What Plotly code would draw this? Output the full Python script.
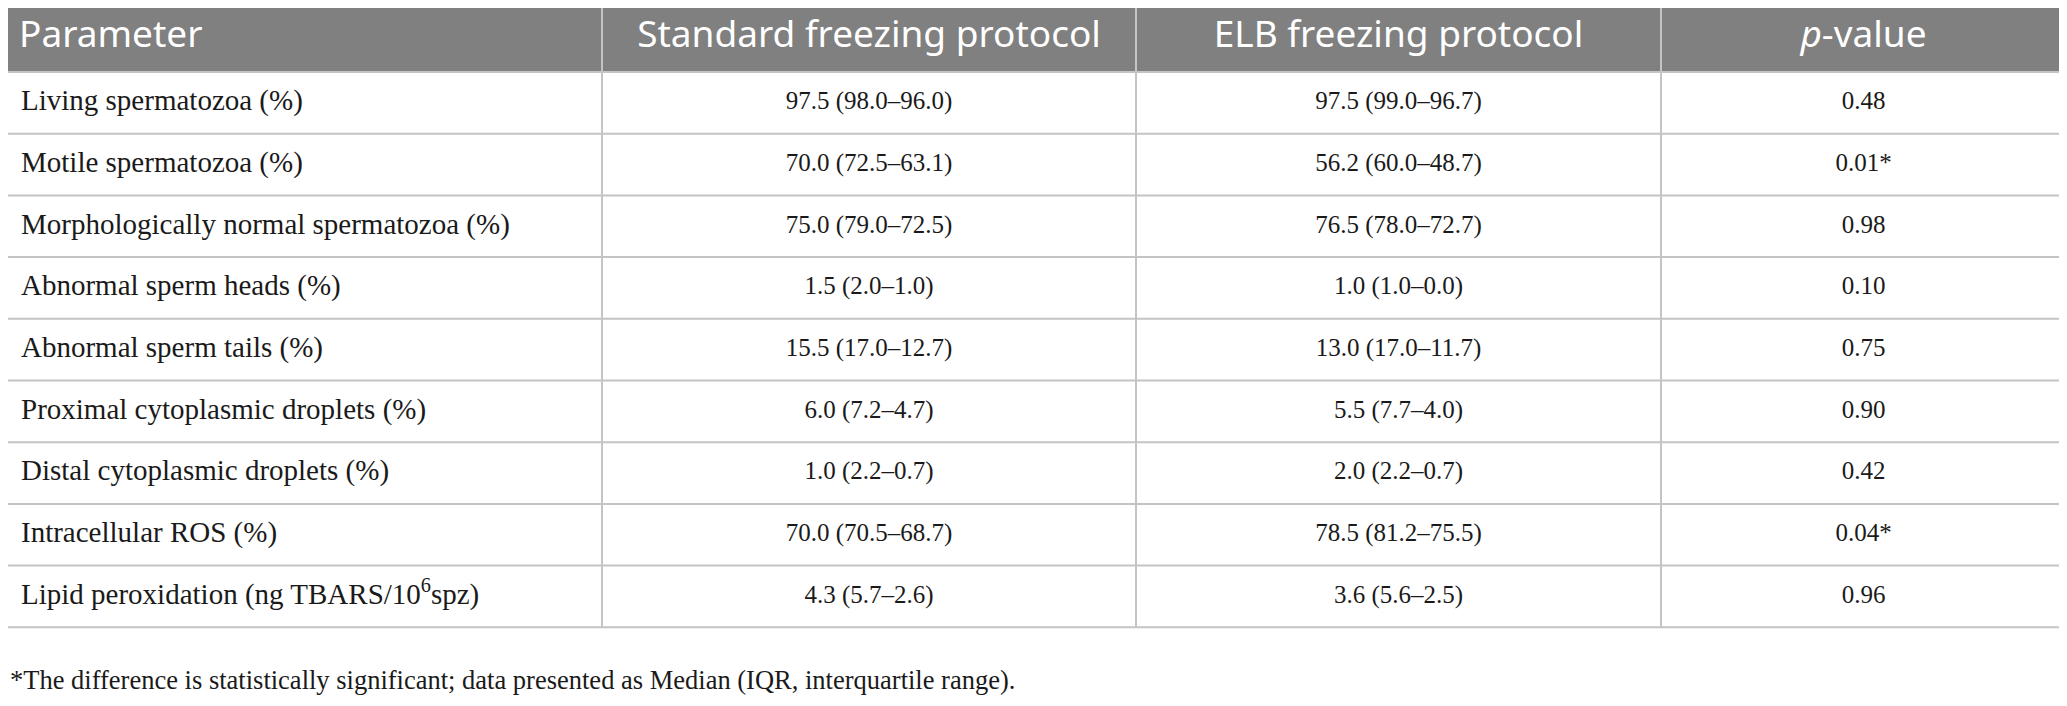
import plotly.graph_objects as go

# table content
headers = ["Parameter", "Standard freezing protocol", "ELB freezing protocol", "<i>p</i>-value"]

parameters = [
    "Living spermatozoa (%)",
    "Motile spermatozoa (%)",
    "Morphologically normal spermatozoa (%)",
    "Abnormal sperm heads (%)",
    "Abnormal sperm tails (%)",
    "Proximal cytoplasmic droplets (%)",
    "Distal cytoplasmic droplets (%)",
    "Intracellular ROS (%)",
    "Lipid peroxidation (ng TBARS/10<sup>6</sup>spz)",
]
standard = [
    "97.5 (98.0–96.0)",
    "70.0 (72.5–63.1)",
    "75.0 (79.0–72.5)",
    "1.5 (2.0–1.0)",
    "15.5 (17.0–12.7)",
    "6.0 (7.2–4.7)",
    "1.0 (2.2–0.7)",
    "70.0 (70.5–68.7)",
    "4.3 (5.7–2.6)",
]
elb = [
    "97.5 (99.0–96.7)",
    "56.2 (60.0–48.7)",
    "76.5 (78.0–72.7)",
    "1.0 (1.0–0.0)",
    "13.0 (17.0–11.7)",
    "5.5 (7.7–4.0)",
    "2.0 (2.2–0.7)",
    "78.5 (81.2–75.5)",
    "3.6 (5.6–2.5)",
]
p_values = ["0.48", "0.01*", "0.98", "0.10", "0.75", "0.90", "0.42", "0.04*", "0.96"]

footnote = "*The difference is statistically significant; data presented as Median (IQR, interquartile range)."

# layout of the grid (pixel units on hidden axes)
W, H = 2067, 706
page_off = 8  # default body margin of the html page
col_widths = [602, 534, 525, 406]
header_top, header_h, row_h = 4, 68, 61.7
pad_left = 21

line_col = "#c4c4c4"
header_fill = "#808080"
text_col = "#1a1a1a"
serif = "Liberation Serif"

edges = [0]
for w in col_widths:
    edges.append(edges[-1] + w)
edges[-1] -= 1
centers = [(edges[i] + edges[i + 1]) / 2 for i in range(len(col_widths))]

n = len(parameters)
row_y = [header_top + header_h + (i + 0.5) * row_h for i in range(n)]
table_bottom = header_top + header_h + n * row_h

fig = go.Figure()

# header text
fig.add_trace(go.Scatter(
    x=[pad_left - 2], y=[header_top + header_h / 2], text=[headers[0]],
    mode="text", textposition="middle right",
    textfont=dict(family="Noto Sans", size=37, color="white"),
))
fig.add_trace(go.Scatter(
    x=centers[1:], y=[header_top + header_h / 2] * 3, text=headers[1:],
    mode="text", textposition="middle center",
    textfont=dict(family="Noto Sans", size=37, color="white"),
))

# body text
fig.add_trace(go.Scatter(
    x=[pad_left] * n, y=row_y, text=parameters,
    mode="text", textposition="middle right",
    textfont=dict(family=serif, size=29, color=text_col),
))
for ci, col in enumerate([standard, elb, p_values], start=1):
    fig.add_trace(go.Scatter(
        x=[centers[ci]] * n, y=row_y, text=col,
        mode="text", textposition="middle center",
        textfont=dict(family=serif, size=25, color=text_col),
    ))

# header background
fig.add_shape(type="rect", x0=edges[0], x1=edges[-1], y0=header_top, y1=header_top + header_h,
              fillcolor=header_fill, line_width=0, layer="below")

# grid lines
h_lines = [header_top, header_top + header_h] + [header_top + header_h + (i + 1) * row_h for i in range(n)]
for y in h_lines:
    fig.add_shape(type="line", x0=edges[0], x1=edges[-1], y0=y, y1=y,
                  line=dict(color=line_col, width=2), layer="below")
for x in edges:
    fig.add_shape(type="line", x0=x, x1=x, y0=header_top, y1=table_bottom,
                  line=dict(color=line_col, width=2), layer="below")

# footnote
fig.add_annotation(
    text=footnote, x=page_off, y=680, xanchor="left", yanchor="middle", showarrow=False,
    font=dict(family=serif, size=26.5, color=text_col),
)

fig.update_xaxes(range=[page_off, W + page_off], visible=False, fixedrange=True)
fig.update_yaxes(range=[H + page_off, page_off], visible=False, fixedrange=True)
fig.update_layout(
    width=W, height=H,
    margin=dict(l=0, r=0, t=0, b=0),
    paper_bgcolor="white", plot_bgcolor="white",
    showlegend=False, hovermode=False,
)

fig.write_html("out.html")
